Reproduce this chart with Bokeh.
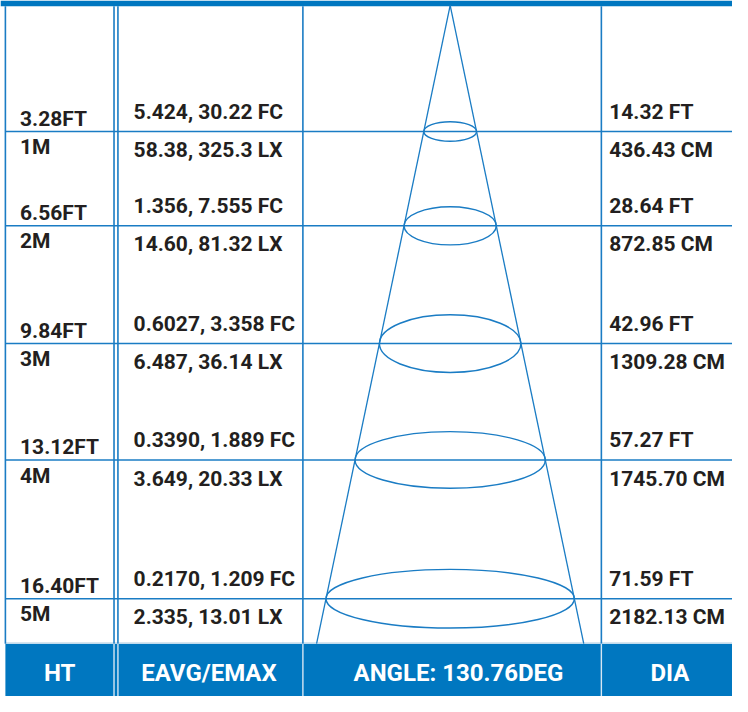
from bokeh.plotting import figure
from bokeh.models import Range1d, ColumnDataSource
from bokeh.core.properties import value
from bokeh.embed import file_html
from bokeh.resources import INLINE

# ---- data ----
heights_ft = ["3.28FT", "6.56FT", "9.84FT", "13.12FT", "16.40FT"]
heights_m = ["1M", "2M", "3M", "4M", "5M"]
eavg_fc = [5.424, 1.356, 0.6027, 0.3390, 0.2170]
emax_fc = [30.22, 7.555, 3.358, 1.889, 1.209]
eavg_lx = [58.38, 14.60, 6.487, 3.649, 2.335]
emax_lx = [325.3, 81.32, 36.14, 20.33, 13.01]
dia_ft = [14.32, 28.64, 42.96, 57.27, 71.59]
dia_cm = [436.43, 872.85, 1309.28, 1745.70, 2182.13]
beam_angle = 130.76
headers = ["HT", "EAVG/EMAX", "ANGLE: %.2fDEG" % beam_angle, "DIA"]

# ---- layout (reference pixel space) ----
W, H = 748, 712
TOP_BAR = 6
BAND_TOP = 658
LEFT = 5
col_lines = [5, 116, 120, 309, 614]
row_y = [134, 230.5, 351, 470, 612]
ell_ry = [10, 19.5, 29.5, 29, 30]
apex_x, apex_y = 459.5, 5
slope = (459.5 - 323) / (658 - 5)
header_x = [60.5, 213, 468, 684]

BLUE = "#0077c0"
LINE = "#1a7cc4"
TXT = "#231f20"
FONT = value("Roboto")

p = figure(width=732, height=696, x_range=Range1d(0, W), y_range=Range1d(H, 0),
           output_backend="svg", toolbar_location=None, min_border=0)
p.axis.visible = False
p.grid.visible = False
p.outline_line_color = None
p.background_fill_color = "white"
p.border_fill_color = "white"

# top bar and bottom band
p.quad(left=[0], right=[W], top=[0], bottom=[TOP_BAR], fill_color=BLUE, line_color=None)
p.quad(left=[LEFT], right=[W], top=[BAND_TOP], bottom=[H], fill_color=BLUE, line_color=None)
p.segment(x0=[LEFT], y0=[BAND_TOP - 1], x1=[W], y1=[BAND_TOP - 1], line_color="#c9dcea", line_width=1.2)

# vertical column lines
p.segment(x0=col_lines, y0=[TOP_BAR] * len(col_lines), x1=col_lines, y1=[BAND_TOP] * len(col_lines),
          line_color=LINE, line_width=1.6)
p.segment(x0=col_lines[1:], y0=[BAND_TOP] * 4, x1=col_lines[1:], y1=[H] * 4,
          line_color="#d6e6f3", line_width=1.4)

# horizontal row lines
p.segment(x0=[LEFT] * 5, y0=row_y, x1=[W] * 5, y1=row_y, line_color=LINE, line_width=1.5)

# cone
half_bottom = (BAND_TOP - apex_y) * slope
p.segment(x0=[apex_x, apex_x], y0=[apex_y, apex_y],
          x1=[apex_x - half_bottom, apex_x + half_bottom], y1=[BAND_TOP, BAND_TOP],
          line_color=LINE, line_width=1.3)
ell_w = [2 * (y - apex_y) * slope for y in row_y]
p.ellipse(x=[apex_x] * 5, y=row_y, width=ell_w, height=[2 * r for r in ell_ry],
          fill_color=None, line_color=LINE, line_width=1.4)

# texts
fc_txt = ["%s, %s FC" % (format(a, "#.4g"), format(b, "#.4g")) for a, b in zip(eavg_fc, emax_fc)]
lx_txt = ["%s, %s LX" % (format(a, "#.4g"), format(b, "#.4g")) for a, b in zip(eavg_lx, emax_lx)]
ft_txt = ["%.2f FT" % d for d in dia_ft]
cm_txt = ["%.2f CM" % d for d in dia_cm]

def put(xs, ys, texts, size="21px", color=TXT, align="left"):
    src = ColumnDataSource(dict(x=xs, y=ys, t=texts))
    p.text(x="x", y="y", text="t", source=src, text_font=FONT, text_font_style="bold",
           text_font_size=size, text_color=color, text_align=align, text_baseline="middle")

put([20] * 5, [y - 13 for y in row_y], heights_ft)
put([20] * 5, [y + 16 for y in row_y], heights_m)
put([136] * 5, [y - 20 for y in row_y], fc_txt)
put([136] * 5, [y + 19 for y in row_y], lx_txt)
put([622] * 5, [y - 20 for y in row_y], ft_txt)
put([622] * 5, [y + 19 for y in row_y], cm_txt)

# header band
src_h = ColumnDataSource(dict(x=header_x, y=[688] * 4, t=headers))
p.text(x="x", y="y", text="t", source=src_h, text_font=FONT, text_font_style="bold",
       text_font_size="24px", text_color="white", text_align="center", text_baseline="middle")

open("out.html", "w").write(file_html(p, INLINE))
